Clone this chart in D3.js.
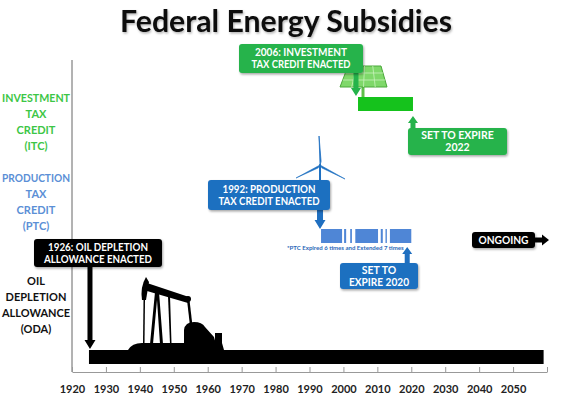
<!DOCTYPE html>
<html><head><meta charset="utf-8">
<script src="https://cdn.jsdelivr.net/npm/d3@7"></script>
<style>
html,body{margin:0;padding:0;background:#fff;}
svg{display:block;}
text{font-family:Lato,"Open Sans",sans-serif;font-weight:700;}
</style></head>
<body><svg id="c" width="570" height="414"></svg>
<script>
// ---------- DATA ----------
const title = "Federal Energy Subsidies";
const categories = ["ITC", "PTC", "ODA"];
const categoryLabels = [
  ["INVESTMENT", "TAX", "CREDIT", "(ITC)"],
  ["PRODUCTION", "TAX", "CREDIT", "(PTC)"],
  ["OIL", "DEPLETION", "ALLOWANCE", "(ODA)"]
];
const categoryColors = ["#3cc646", "#5b8fd6", "#111111"];
const odaSpan = [1925, 2059];
const itcSpan = [2004.3, 2020.5];
const ptcSegments = [
  [1993.4, 1999.6], [2000.2, 2000.8], [2002.0, 2002.5],
  [2003.5, 2010.2], [2011.0, 2011.6], [2012.4, 2012.8], [2013.7, 2020.0]
];
const tickYears = [1920,1930,1940,1950,1960,1970,1980,1990,2000,2010,2020,2030,2040,2050,2060];
const tickLabels = ["1920","1930","1940","1950","1960","1970","1980","1990","2000","2010","2020","2030","2040","2050",""];
const eventYears = { odaEnacted: 1925.3, ptcEnacted: 1993.1, ptcExpire: 2018.8, itcEnacted: 2003.7, itcExpire: 2020.5 };
const calloutTexts = {
  oda: ["1926: OIL DEPLETION", "ALLOWANCE ENACTED"],
  ptc: ["1992: PRODUCTION", "TAX CREDIT ENACTED"],
  ptcExp: ["SET TO", "EXPIRE 2020"],
  itc: ["2006: INVESTMENT", "TAX CREDIT ENACTED"],
  itcExp: ["SET TO EXPIRE", "2022"],
  ongoing: ["ONGOING"]
};
const footnote = "*PTC Expired 6 times and Extended 7 times";

// ---------- SETUP ----------
const svg = d3.select("#c");
const defs = svg.append("defs");
const f = defs.append("filter").attr("id","sh").attr("x","-20%").attr("y","-20%").attr("width","140%").attr("height","160%");
f.append("feDropShadow").attr("dx",1).attr("dy",1.5).attr("stdDeviation",1.2).attr("flood-color","#000").attr("flood-opacity",0.35);
const ft = defs.append("filter").attr("id","tsh").attr("x","-10%").attr("y","-20%").attr("width","120%").attr("height","150%");
ft.append("feDropShadow").attr("dx",1).attr("dy",1.5).attr("stdDeviation",1).attr("flood-color","#000").attr("flood-opacity",0.3);

const x = d3.scaleLinear().domain([1920, 2060]).range([72, 547]);
const yRow = d3.scaleOrdinal().domain(categories).range([104, 236, 357]);
const barH = 14;
const axisY = 372;

function fit(sel, w) {
  sel.each(function(){
    const len = this.getComputedTextLength();
    const fs = parseFloat(d3.select(this).attr("font-size"));
    if (len > 0) d3.select(this).attr("font-size", fs * w / len);
  });
}
function shrink(sel, w) {
  sel.each(function(){
    const len = this.getComputedTextLength();
    if (len > w) d3.select(this).attr("textLength", w).attr("lengthAdjust", "spacingAndGlyphs");
  });
}

// title
svg.append("text").attr("x", 286).attr("y", 32).attr("text-anchor","middle")
  .attr("font-size", 28).attr("fill","#111").attr("filter","url(#tsh)")
  .text(title).call(fit, 332);

// y axis line
svg.append("line").attr("x1", x(1920)).attr("x2", x(1920)).attr("y1", 60).attr("y2", axisY)
  .attr("stroke", "#666").attr("stroke-width", 1);

// x axis
const xAxis = d3.axisBottom(x).tickValues(tickYears)
  .tickFormat((d,i) => tickLabels[i]).tickSizeInner(-5).tickSizeOuter(0).tickPadding(13);
const gx = svg.append("g").attr("transform", `translate(0,${axisY})`).call(xAxis);
gx.select(".domain").attr("stroke","#999");
gx.selectAll(".tick line").attr("stroke","#999");
gx.selectAll(".tick text").attr("font-size", 11).attr("fill","#222")
  .attr("font-family","Lato,sans-serif").attr("font-weight",700);

// category labels
const labelCenters = [122, 202, 305];
categories.forEach((c, i) => {
  categoryLabels[i].forEach((s, j) => {
    svg.append("text").attr("x", 36).attr("y", labelCenters[i] - 24 + j * 16 + 4)
      .attr("text-anchor","middle").attr("font-size", 11).attr("fill", categoryColors[i])
      .text(s).call(shrink, 68);
  });
});

// ---------- decorative icons ----------
// wind turbine
(function(){
  const cx = x(eventYears.ptcEnacted), hy = 165;
  const g = svg.append("g").attr("stroke","#1f70c1").attr("fill","none").attr("stroke-linecap","round");
  g.append("line").attr("x1",cx).attr("x2",cx).attr("y1",hy).attr("y2",182).attr("stroke-width",2);
  g.append("path").attr("d",`M${cx},${hy} L${cx-1},136 L${cx+1},${hy-4} Z`).attr("fill","#1f70c1").attr("stroke-width",0.8);
  g.append("path").attr("d",`M${cx},${hy} L${cx-24},178 L${cx-2},${hy+3} Z`).attr("fill","#1f70c1").attr("stroke-width",0.6);
  g.append("path").attr("d",`M${cx},${hy} L${cx+25},179 L${cx+2},${hy+3} Z`).attr("fill","#1f70c1").attr("stroke-width",0.6);
})();

// solar panel
(function(){
  const g = svg.append("g");
  g.append("line").attr("x1",363).attr("x2",363).attr("y1",86).attr("y2",97).attr("stroke","#5fbf4a").attr("stroke-width",3);
  g.append("path").attr("d","M348,66 L381,66 L387,87 L340,87 Z").attr("fill","#7fd86a").attr("stroke","#4aa83a").attr("stroke-width",1);
  for (let k = 1; k < 4; k++) {
    const t = k/4;
    g.append("line").attr("x1",348+33*t).attr("y1",66).attr("x2",340+47*t).attr("y2",87).attr("stroke","#c9f2bd").attr("stroke-width",0.8);
  }
  for (let k = 1; k < 3; k++) {
    const t = k/3, yy = 66 + 21*t;
    g.append("line").attr("x1",348-8*t).attr("y1",yy).attr("x2",381+6*t).attr("y2",yy).attr("stroke","#c9f2bd").attr("stroke-width",0.8);
  }
})();

// pump jack silhouette
(function(){
  const g = svg.append("g").attr("fill","#000");
  g.append("path").attr("d","M128,350 Q132,343 142,343 L222,343 L224,350 Z");
  g.append("path").attr("d","M155,292 L150,344 L153,344 L157,300 L160,344 L163,344 L159,292 Z");
  g.append("path").attr("d","M143.5,300 L143,344 L144.5,344 L145,300 Z");
  g.append("path").attr("d","M168,296 L170,344 L171.5,344 L170,296 Z");
  g.append("path").attr("d","M147,283 L189,297 L188,303 L147,291 Z");
  g.append("path").attr("d","M146,277 Q140,287 142,300 L146,300 L149,282 Z");
  g.append("path").attr("d","M187,300 L189.5,300 L192.5,326 L190,326 Z");
  g.append("circle").attr("cx",188).attr("cy",299).attr("r",3);
  g.append("path").attr("d","M184,344 L184,330 Q185,322 194,322 Q202,322 205,327 L214,337 L216,344 Z");
  g.append("rect").attr("x",215).attr("y",333).attr("width",7).attr("height",11);
})();

// ---------- BARS ----------
svg.append("rect").attr("class","bar oda")
  .attr("x", x(odaSpan[0])).attr("width", x(odaSpan[1]) - x(odaSpan[0]))
  .attr("y", yRow("ODA") - barH/2).attr("height", barH).attr("fill","#000");
svg.append("rect").attr("class","bar itc")
  .attr("x", x(itcSpan[0])).attr("width", x(itcSpan[1]) - x(itcSpan[0]))
  .attr("y", yRow("ITC") - barH/2).attr("height", barH).attr("fill","#15c21c");
svg.selectAll("rect.ptc").data(ptcSegments).join("rect").attr("class","bar ptc")
  .attr("x", d => x(d[0])).attr("width", d => x(d[1]) - x(d[0]))
  .attr("y", yRow("PTC") - barH/2).attr("height", barH).attr("fill","#4f86d6");

svg.append("text").attr("x", 287).attr("y", 250).attr("font-size", 4.6).attr("fill","#2a68b8")
  .text(footnote).call(fit, 117);

// ---------- ARROWS & CALLOUTS ----------
function arrowV(xc, yFrom, yTo, color, shaft, head, headLen) {
  const dir = yTo > yFrom ? 1 : -1;
  const yb = yTo - dir * headLen;
  const p = `M${xc-shaft/2},${yFrom} L${xc-shaft/2},${yb} L${xc-head/2},${yb} L${xc},${yTo} L${xc+head/2},${yb} L${xc+shaft/2},${yb} L${xc+shaft/2},${yFrom} Z`;
  svg.append("path").attr("d", p).attr("fill", color);
}
function arrowH(yc, xFrom, xTo, color, shaft, head, headLen) {
  const xb = xTo - headLen;
  const p = `M${xFrom},${yc-shaft/2} L${xb},${yc-shaft/2} L${xb},${yc-head/2} L${xTo},${yc} L${xb},${yc+head/2} L${xb},${yc+shaft/2} L${xFrom},${yc+shaft/2} Z`;
  svg.append("path").attr("d", p).attr("fill", color);
}
function callout(x0, y0, x1, y1, fill, lines, widths, fs) {
  svg.append("rect").attr("x", x0).attr("y", y0).attr("width", x1-x0).attr("height", y1-y0)
    .attr("rx", 3).attr("fill", fill).attr("filter","url(#sh)");
  const cx = (x0+x1)/2, cy = (y0+y1)/2, lh = fs * 1.12;
  lines.forEach((s, i) => {
    svg.append("text").attr("x", cx).attr("y", cy + (i - (lines.length-1)/2) * lh + fs*0.36)
      .attr("text-anchor","middle").attr("font-size", fs).attr("fill","#fff").text(s)
      .call(shrink, widths[i]);
  });
}

const green = "#25b34b", blue = "#1f6fc0";

// ODA
arrowV(x(eventYears.odaEnacted), 262, 349, "#000", 5, 11, 9);
callout(34, 239, 162, 267, "#000", calloutTexts.oda, [100, 108], 10.5);

// PTC
arrowV(x(eventYears.ptcEnacted), 205, 229, blue, 6, 11, 9);
callout(208, 180, 330, 210, blue, calloutTexts.ptc, [93, 101], 10.5);
arrowV(x(eventYears.ptcExpire), 268, 247, blue, 5, 10, 7);
callout(340, 263, 418, 289, blue, calloutTexts.ptcExp, [40, 60], 10.5);

// ITC
arrowV(x(eventYears.itcEnacted), 70, 96, green, 5, 10, 8);
callout(239, 44, 363, 73, green, calloutTexts.itc, [92, 99], 10.5);
arrowV(x(eventYears.itcExpire), 132, 116, green, 5, 10, 7);
callout(408, 128, 507, 155, green, calloutTexts.itcExp, [76, 30], 10.5);

// ONGOING
arrowH(240, 530, 549, "#000", 5, 11, 7);
callout(472, 232, 535, 248, "#000", calloutTexts.ongoing, [50], 10.5);
</script></body></html>
